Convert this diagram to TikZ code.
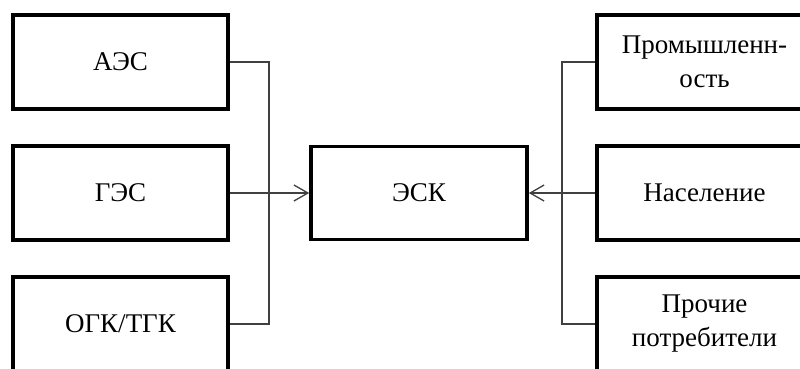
\documentclass[tikz,border=0pt]{standalone}
\usepackage{fontspec}
\setmainfont{Liberation Serif}
\usetikzlibrary{arrows.meta}
\begin{document}
\begin{tikzpicture}[x=1pt,y=-1pt,
  box/.style={draw=black,line width=3.6pt,minimum width=215pt,minimum height=94pt,
    inner sep=0pt,align=center,font=\fontsize{27}{34}\selectfont},
  link/.style={draw=black!75,line width=1.1pt},
  tip/.style={-{Straight Barb[length=14pt,width=16pt,line width=1.3pt]}}]
\useasboundingbox (0,0) rectangle (800,368);
\clip (0,0) rectangle (800,368);
% suppliers
\node[box] (aes) at (120.5,62) {АЭС};
\node[box] (ges) at (120.5,193) {ГЭС};
\node[box] (ogk) at (120.5,324) {ОГК/ТГК};
% energy sales company
\node[box,minimum width=216pt,minimum height=93pt] (esk) at (419,193) {ЭСК};
% consumers
\node[box] (prom) at (704.5,62) {Промышленн-\\ость};
\node[box] (nas) at (704.5,193) {Население};
\node[box] (pro) at (704.5,324) {Прочие\\потребители};
% bus lines
\coordinate (jl) at (269,193);
\coordinate (jr) at (562,193);
\draw[link] (aes.east) -- (aes.east -| jl) -- (ogk.east -| jl) -- (ogk.east);
\draw[link,tip] (ges.east) -- (esk.west);
\draw[link] (prom.west) -- (prom.west -| jr) -- (pro.west -| jr) -- (pro.west);
\draw[link,tip] (nas.west) -- (esk.east);
\end{tikzpicture}
\end{document}
